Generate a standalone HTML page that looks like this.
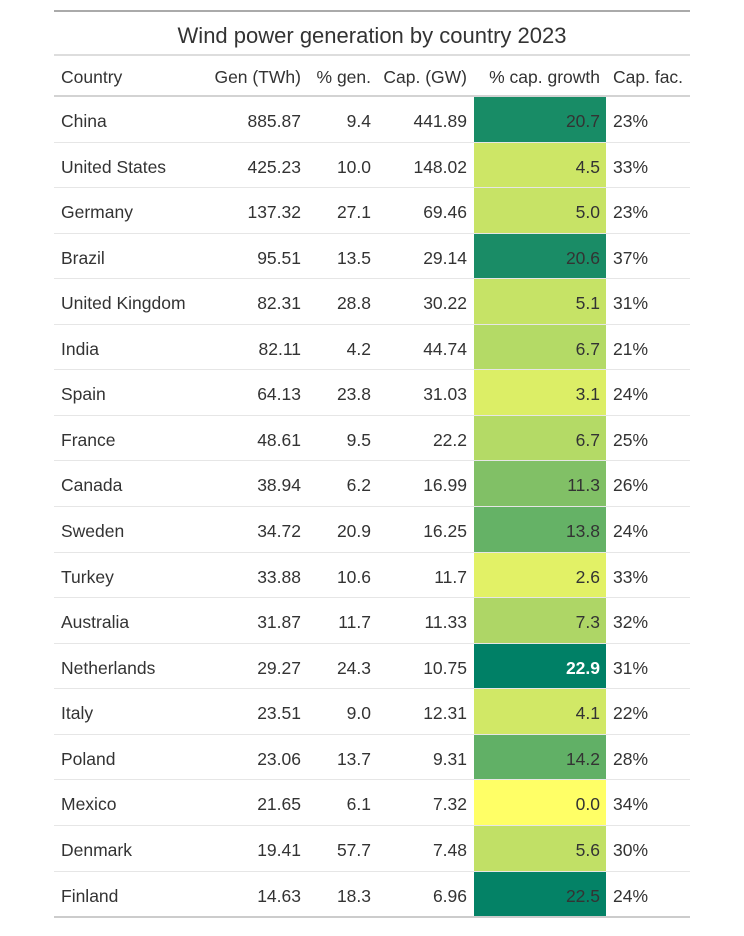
<!DOCTYPE html>
<html><head><meta charset="utf-8"><style>
body{margin:0;width:744px;height:936px;background:#fff;font-family:"Liberation Sans","DejaVu Sans",sans-serif;color:#333;position:relative;overflow:hidden}
.a{position:absolute;white-space:nowrap;font-size:17.5px;line-height:20px}
.r{text-align:right}
.ln{position:absolute;left:54px;width:636px}
</style></head><body>
<div class="ln" style="top:10px;height:2px;background:#aaa"></div>
<div class="a" style="left:54px;width:636px;text-align:center;top:24px;font-size:22px;line-height:24px">Wind power generation by country 2023</div>
<div class="ln" style="top:54px;height:2px;background:#ddd"></div>
<div class="ln" style="top:95px;height:2px;background:#d3d3d3"></div>
<script>
const countries=["China","United States","Germany","Brazil","United Kingdom","India","Spain","France","Canada","Sweden","Turkey","Australia","Netherlands","Italy","Poland","Mexico","Denmark","Finland"];
const gen=["885.87","425.23","137.32","95.51","82.31","82.11","64.13","48.61","38.94","34.72","33.88","31.87","29.27","23.51","23.06","21.65","19.41","14.63"];
const pctGen=["9.4","10.0","27.1","13.5","28.8","4.2","23.8","9.5","6.2","20.9","10.6","11.7","24.3","9.0","13.7","6.1","57.7","18.3"];
const cap=["441.89","148.02","69.46","29.14","30.22","44.74","31.03","22.2","16.99","16.25","11.7","11.33","10.75","12.31","9.31","7.32","7.48","6.96"];
const capGrowth=[20.7,4.5,5.0,20.6,5.1,6.7,3.1,6.7,11.3,13.8,2.6,7.3,22.9,4.1,14.2,0.0,5.6,22.5];
const capFac=["23%","33%","23%","37%","31%","21%","24%","25%","26%","24%","33%","32%","31%","22%","28%","34%","30%","24%"];
const headers=["Country","Gen (TWh)","% gen.","Cap. (GW)","% cap. growth","Cap. fac."];
const hx=[[61,'l'],[301,'r'],[371,'r'],[467,'r'],[600,'r'],[613,'l']];
const body=document.body;
function txt(s,x,al,y,name,extra){
  const d=document.createElement('div');
  d.className='a'+(al==='r'?' r':'');
  if(al==='r'){d.style.right=(744-x)+'px';}else{d.style.left=x+'px';}
  d.style.top=y+'px';d.textContent=s;
  if(extra)Object.assign(d.style,extra);
  
  
  body.appendChild(d);return d;
}
headers.forEach((h,i)=>{txt(h,hx[i][0],hx[i][1],67,'header-'+h.toLowerCase().replace(/[^a-z]+/g,'-'));});
const maxG=Math.max(...capGrowth);
const top0=97,rh=45.56;
countries.forEach((c,i)=>{
  const y=top0+i*rh;
  const t=capGrowth[i]/maxG;
  const cell=document.createElement('div');
  cell.style.cssText=`position:absolute;left:474px;width:132px;top:${y}px;height:${rh-1}px;background:rgb(${Math.round((1-t)*255)},${Math.round((1-0.5*t)*255)},102)`;
  
  
  body.appendChild(cell);
  if(i<countries.length-1){
    const l=document.createElement('div');
    l.className='ln';l.style.top=(y+rh-1)+'px';l.style.height='1px';l.style.background='#e6e6e6';
    
    
    body.appendChild(l);
  }
  const ty=y+14;
  txt(c,61,'l',ty,'country-name');
  txt(gen[i],301,'r',ty,'gen-value');
  txt(pctGen[i],371,'r',ty,'pct-gen-value');
  txt(cap[i],467,'r',ty,'cap-value');
  const g=capGrowth[i]===maxG;
  txt(capGrowth[i].toFixed(1),600,'r',ty,'growth-value',g?{color:'#fff',fontWeight:'bold'}:null);
  txt(capFac[i],613,'l',ty,'cap-fac-value');
});
const b=document.createElement('div');
b.className='ln';b.style.top=(top0+countries.length*rh-1)+'px';b.style.height='2px';b.style.background='#ccc';


body.appendChild(b);
</script>
</body></html>
